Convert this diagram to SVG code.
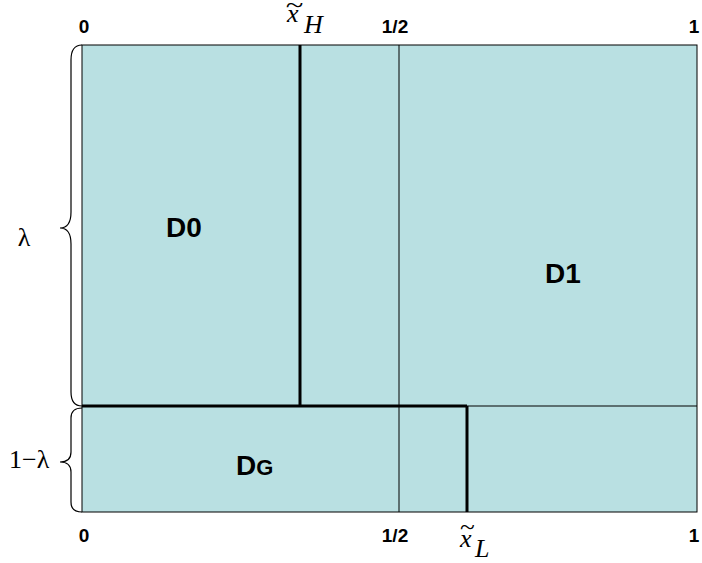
<svg xmlns="http://www.w3.org/2000/svg" width="702" height="563" viewBox="0 0 702 563">
<style>
.ax{font-family:"Liberation Sans",Arial,sans-serif;font-weight:bold;font-size:19px;fill:#000}
.lab{font-family:"Liberation Sans",Arial,sans-serif;font-weight:bold;font-size:28px;fill:#000}
.math{font-family:"Liberation Serif","Times New Roman",serif;font-size:26px;fill:#000}
.brace{fill:none;stroke:#000;stroke-width:1.2}
.thick{stroke:#000;stroke-width:3;fill:none}
.thin{stroke:#000;stroke-width:1;fill:none}
</style>
<rect width="702" height="563" fill="#fff"/>
<g id="region">
<rect x="82" y="45" width="615" height="467" fill="#B9E0E2" stroke="#000" stroke-width="1"/>
</g>
<g id="connectors">
<line class="thin" x1="467" y1="406" x2="697" y2="406"/>
<line class="thin" x1="399" y1="45" x2="399" y2="512"/>
<line class="thick" x1="300" y1="45" x2="300" y2="406"/>
<line class="thick" x1="82" y1="406" x2="467" y2="406"/>
<line class="thick" x1="467" y1="406" x2="467" y2="512"/>
</g>
<g id="braces">
<path class="brace" d="M82,45 Q71,45 71,60 L71,212 Q71,228 60,228 Q71,228 71,244 L71,392 Q71,406 82,406"/>
<path class="brace" d="M82,408 Q71,408 71,418 L71,452 Q71,462 60,462 Q71,462 71,472 L71,502 Q71,512 82,512"/>
</g>
<g id="axis-top">
<text class="ax" x="84" y="33" text-anchor="middle">0</text>
<text class="ax" x="395" y="33" text-anchor="middle">1/2</text>
<text class="ax" x="694" y="33" text-anchor="middle">1</text>
<text class="math" x="287" y="22" font-style="italic">x</text>
<text class="math" transform="translate(294.5,13) scale(1.25,1)" text-anchor="middle">~</text>
<text class="math" x="304" y="33" font-size="16" font-style="italic">H</text>
</g>
<g id="axis-bottom">
<text class="ax" x="84" y="542" text-anchor="middle">0</text>
<text class="ax" x="395" y="542" text-anchor="middle">1/2</text>
<text class="ax" x="694" y="542" text-anchor="middle">1</text>
<text class="math" x="460" y="547" font-style="italic">x</text>
<text class="math" transform="translate(467.5,535) scale(1.05,1)" text-anchor="middle">~</text>
<text class="math" x="475" y="557" font-size="16" font-style="italic">L</text>
</g>
<g id="lambda">
<text class="math" x="24" y="246" font-size="30" text-anchor="middle">λ</text>
<text class="math" x="9" y="468" font-size="25">1−λ</text>
</g>
<g id="D0"><text class="lab" x="166" y="237">D0</text></g>
<g id="D1"><text class="lab" x="545" y="283" font-size="27">D1</text></g>
<g id="DG"><text class="lab" x="236" y="475" font-size="30">D<tspan font-size="22">G</tspan></text></g>
</svg>
